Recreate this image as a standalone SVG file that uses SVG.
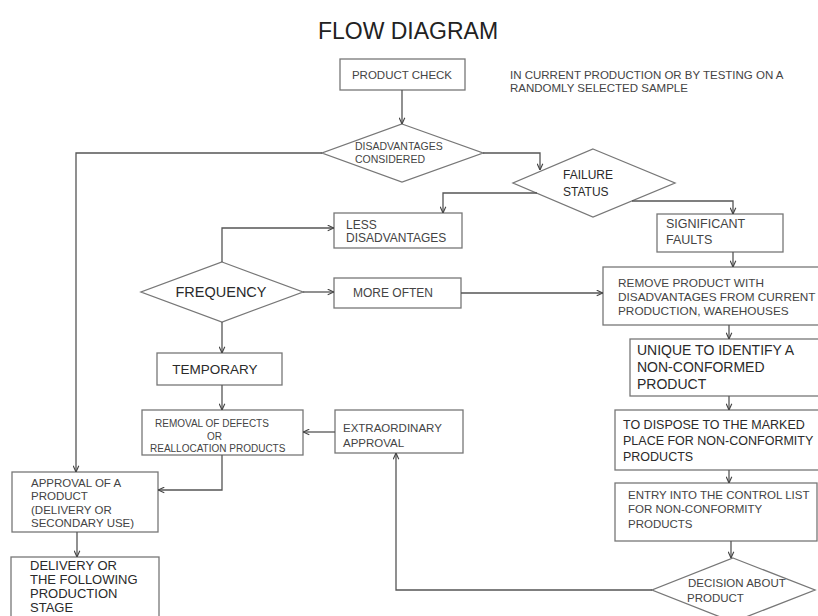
<svg xmlns="http://www.w3.org/2000/svg" width="818" height="616" viewBox="0 0 818 616">
<style>
.bg{fill:#fff}
.box{fill:#fff;stroke:#777;stroke-width:1.3}
.c line,.c polyline{fill:none;stroke:#555;stroke-width:1.3}
text{font-family:"Liberation Sans",Arial,sans-serif;fill:#444}
.dk{fill:#2a2a2a}
.t{font-size:23px;fill:#222}
</style>
<defs>
<marker id="ah" viewBox="0 0 10 10" refX="10" refY="5" markerWidth="7" markerHeight="7" orient="auto" markerUnits="userSpaceOnUse">
<polyline points="1,1 10,5 1,9" fill="none" stroke="#444" stroke-width="1.6"/>
</marker>
</defs>
<rect class="bg" x="0" y="0" width="818" height="616"/>
<text class="t" x="408" y="39" text-anchor="middle">FLOW DIAGRAM</text>

<g id="note"><text x="510" y="79" font-size="11.5">IN CURRENT PRODUCTION OR BY TESTING ON A</text><text x="510" y="92" font-size="11.5">RANDOMLY SELECTED SAMPLE</text></g>

<g id="product-check"><rect class="box" x="340" y="59" width="125" height="31"/><text x="402" y="79" font-size="11.5" text-anchor="middle">PRODUCT CHECK</text></g>

<g id="disadvantages-considered"><polygon class="box" points="402,124 483,153 402,182 322,153"/><text x="355" y="150" font-size="10.5">DISADVANTAGES</text><text x="355" y="163" font-size="10.5">CONSIDERED</text></g>

<g id="failure-status"><polygon class="box" points="593,149 675,183 593,217 513,183"/><text class="dk" x="563" y="179" font-size="12">FAILURE</text><text class="dk" x="563" y="196" font-size="12">STATUS</text></g>

<g id="less-disadvantages"><rect class="box" x="334" y="213" width="128" height="35"/><text x="346" y="229" font-size="12">LESS</text><text x="346" y="242" font-size="12">DISADVANTAGES</text></g>

<g id="significant-faults"><rect class="box" x="657" y="214" width="126" height="38"/><text x="666" y="228" font-size="12.5">SIGNIFICANT</text><text x="666" y="244" font-size="12.5">FAULTS</text></g>

<g id="frequency"><polygon class="box" points="222,262 303,292 222,322 141,292"/><text class="dk" x="221" y="297" font-size="14.5" text-anchor="middle">FREQUENCY</text></g>

<g id="more-often"><rect class="box" x="334" y="278" width="127" height="30"/><text x="353" y="297" font-size="12">MORE OFTEN</text></g>

<g id="remove-product"><rect class="box" x="603" y="267" width="225" height="58"/><text x="618" y="287" font-size="11.8">REMOVE PRODUCT WITH</text><text x="618" y="301" font-size="11.8">DISADVANTAGES FROM CURRENT</text><text x="618" y="315" font-size="11.8">PRODUCTION, WAREHOUSES</text></g>

<g id="unique-identify"><rect class="box" x="630" y="339" width="198" height="57"/><text class="dk" x="637" y="355" font-size="14">UNIQUE TO IDENTIFY A</text><text class="dk" x="637" y="372" font-size="14">NON-CONFORMED</text><text class="dk" x="637" y="389" font-size="14">PRODUCT</text></g>

<g id="temporary"><rect class="box" x="157" y="353" width="125" height="32"/><text class="dk" x="215" y="374" font-size="13.5" text-anchor="middle">TEMPORARY</text></g>

<g id="to-dispose"><rect class="box" x="615" y="410" width="213" height="60"/><text class="dk" x="623" y="429" font-size="12.5">TO DISPOSE TO THE MARKED</text><text class="dk" x="623" y="445" font-size="12.5">PLACE FOR NON-CONFORMITY</text><text class="dk" x="623" y="461" font-size="12.5">PRODUCTS</text></g>

<g id="removal-defects"><rect class="box" x="142" y="410" width="161" height="45"/><text x="155" y="427" font-size="10">REMOVAL OF DEFECTS</text><text x="207" y="440" font-size="10">OR</text><text x="150" y="452" font-size="10">REALLOCATION PRODUCTS</text></g>

<g id="extraordinary-approval"><rect class="box" x="335" y="410" width="128" height="43"/><text x="343" y="432" font-size="11.5">EXTRAORDINARY</text><text x="343" y="447" font-size="11.5">APPROVAL</text></g>

<g id="approval-product"><rect class="box" x="12" y="472" width="146" height="60"/><text x="31" y="487" font-size="11.5">APPROVAL OF A</text><text x="31" y="500" font-size="11.5">PRODUCT</text><text x="31" y="514" font-size="11.5">(DELIVERY OR</text><text x="31" y="527" font-size="11.5">SECONDARY USE)</text></g>

<g id="entry-control-list"><rect class="box" x="615" y="483" width="202" height="58"/><text x="628" y="499" font-size="11.5">ENTRY INTO THE CONTROL LIST</text><text x="628" y="513" font-size="11.5">FOR NON-CONFORMITY</text><text x="628" y="528" font-size="11.5">PRODUCTS</text></g>

<g id="delivery"><rect class="box" x="11" y="557" width="148" height="70"/><text class="dk" x="30" y="570" font-size="13">DELIVERY OR</text><text class="dk" x="30" y="584" font-size="13">THE FOLLOWING</text><text class="dk" x="30" y="598" font-size="13">PRODUCTION</text><text class="dk" x="30" y="612" font-size="13">STAGE</text></g>

<g id="decision"><polygon class="box" points="733,558 815,590 733,622 652,590"/><text x="688" y="587" font-size="11.5">DECISION ABOUT</text><text x="687" y="602" font-size="11.5">PRODUCT</text></g>

<g id="connectors" class="c">
<line x1="402" y1="90" x2="402" y2="124" marker-end="url(#ah)"/>
<polyline points="322,153 76,153 76,472" marker-end="url(#ah)"/>
<polyline points="483,153 540,153 540,170" marker-end="url(#ah)"/>
<polyline points="537,193 443,193 443,213" marker-end="url(#ah)"/>
<polyline points="632,201 733,201 733,214" marker-end="url(#ah)"/>
<polyline points="222,262 222,228 334,228" marker-end="url(#ah)"/>
<line x1="303" y1="292" x2="334" y2="292" marker-end="url(#ah)"/>
<line x1="461" y1="293" x2="603" y2="293" marker-end="url(#ah)"/>
<line x1="733" y1="252" x2="733" y2="267" marker-end="url(#ah)"/>
<line x1="729" y1="325" x2="729" y2="339" marker-end="url(#ah)"/>
<line x1="729" y1="396" x2="729" y2="410" marker-end="url(#ah)"/>
<line x1="729" y1="470" x2="729" y2="483" marker-end="url(#ah)"/>
<line x1="731" y1="541" x2="731" y2="558" marker-end="url(#ah)"/>
<polyline points="652,590 396,590 396,453" marker-end="url(#ah)"/>
<line x1="335" y1="432" x2="303" y2="432" marker-end="url(#ah)"/>
<line x1="222" y1="322" x2="222" y2="353" marker-end="url(#ah)"/>
<line x1="222" y1="385" x2="222" y2="410" marker-end="url(#ah)"/>
<polyline points="222,455 222,490 158,490" marker-end="url(#ah)"/>
<line x1="77" y1="532" x2="77" y2="557" marker-end="url(#ah)"/>
</g>
</svg>
